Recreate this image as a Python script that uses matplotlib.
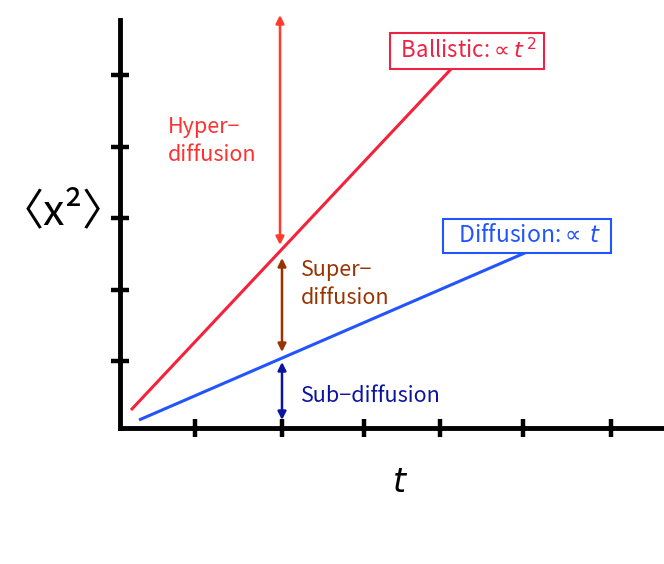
import matplotlib
matplotlib.use("Agg")
import matplotlib.pyplot as plt

plt.rcParams['font.family'] = ['Noto Sans CJK JP', 'DejaVu Sans']
plt.rcParams['mathtext.fontset'] = 'dejavusans'

# Data (in axis units)
x_ticks = [75, 162, 244, 320, 403, 491]
y_ticks = [67, 138, 210, 281, 353]
ballistic_x = [11, 332]
ballistic_y = [18, 360]
diffusion_x = [19, 407]
diffusion_y = [8, 176]
hyper_arrow = (160, 183, 413)     # x, y_bottom, y_top
super_arrow = (162, 170, 76)      # x, y_top, y_bottom
sub_arrow = (162, 66, 8)          # x, y_top, y_bottom

fig = plt.figure(figsize=(6.64, 5.64), dpi=100)
ax = fig.add_axes([120/664, (564-428)/564, (664-120)/664, (428-20)/564])
ax.set_xlim(0, 544)
ax.set_ylim(0, 408)

for s in ['top', 'right']:
    ax.spines[s].set_visible(False)
for s in ['left', 'bottom']:
    ax.spines[s].set_linewidth(3.5)
    ax.spines[s].set_color('black')
ax.set_xticks(x_ticks)
ax.set_yticks(y_ticks)
ax.set_xticklabels([])
ax.set_yticklabels([])
ax.tick_params(direction='inout', length=13, width=3.2, color='black')

ax.plot(ballistic_x, ballistic_y, color='#f5223c', lw=2.2, solid_capstyle='butt')
ax.plot(diffusion_x, diffusion_y, color='#2255ff', lw=2.2, solid_capstyle='butt')

def darrow(x, y0, y1, color):
    ax.annotate('', xy=(x, y1), xytext=(x, y0),
                arrowprops=dict(arrowstyle='<|-|>', color=color, lw=1.8,
                                mutation_scale=12, shrinkA=0, shrinkB=0),
                annotation_clip=False)

darrow(hyper_arrow[0], hyper_arrow[1], hyper_arrow[2], '#ff3b2a')
darrow(super_arrow[0], super_arrow[1], super_arrow[2], '#993300')
darrow(sub_arrow[0], sub_arrow[1], sub_arrow[2], '#0a14a0')

fs = 15.5
ax.text(48, 287, 'Hyper−\ndiffusion', color='#ff3030', fontsize=fs,
        ha='left', va='center', linespacing=1.4)
ax.text(181, 144, 'Super−\ndiffusion', color='#993300', fontsize=fs,
        ha='left', va='center', linespacing=1.4)
ax.text(181, 32, 'Sub−diffusion', color='#0a14a0', fontsize=fs,
        ha='left', va='center')

ax.text(347, 377, r' Ballistic:$\propto t^{\,2}$ ', color='#ee2244', fontsize=16,
        ha='center', va='center',
        bbox=dict(boxstyle='square,pad=0.25', fc='white', ec='#ee2244', lw=1.5))
ax.text(407, 192, r'  Diffusion:$\propto\, t$  ', color='#2255ff', fontsize=16.5,
        ha='center', va='center',
        bbox=dict(boxstyle='square,pad=0.22', fc='white', ec='#2255ff', lw=1.5))

ax.text(280, -55, r'$t$', fontsize=24, ha='center', va='center', clip_on=False)
fig.text(63/664, 1 - 212/564, '〈x²〉', fontsize=31, ha='center', va='center')

fig.savefig('out.png', dpi=100, facecolor='white')
